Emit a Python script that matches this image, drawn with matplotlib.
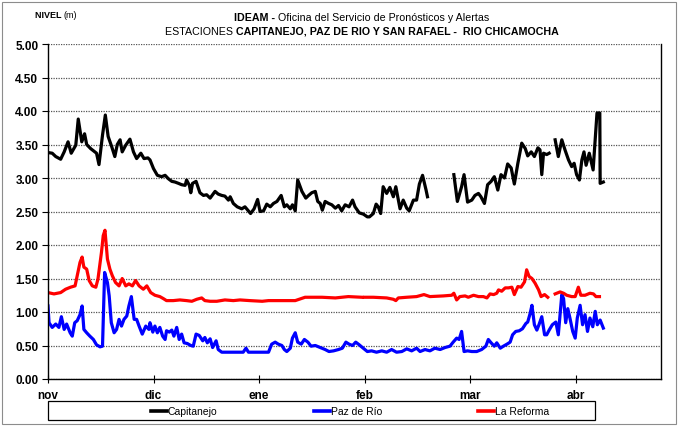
import matplotlib
matplotlib.use("Agg")
import matplotlib.pyplot as plt
import numpy as np
from matplotlib.lines import Line2D
from matplotlib.patches import Rectangle

FONT = ["Liberation Sans Narrow", "Liberation Sans", "DejaVu Sans"]
nan = np.nan

# x = days counted from 1 nov, NaN marks a gap in the record
CAP_DAYS = [0.0, 1.2, 2.2, 3.6, 4.6, 5.7, 6.6, 7.9, 8.6, 9.6, 10.4, 11.0, 12.1, 13.1, 13.8,
            14.5, 15.5, 16.3, 17.1, 18.1, 19.0, 19.7, 20.5, 21.1, 22.1, 23.3, 24.3, 25.2,
            26.4, 27.3, 28.4, 29.0, 30.0, 31.1, 32.3, 33.3, 34.2, 35.2, 36.1, 37.1, 38.0,
            39.0, 39.4, 40.2, 40.6, 41.1, 42.1, 43.2, 44.2, 45.1, 46.1, 47.5, 48.4, 49.4,
            50.3, 51.3, 51.8, 52.7, 53.8, 55.1, 56.0, 57.6, 58.6, 59.6, 60.3, 61.3, 62.2,
            63.2, 64.1, 65.1, 66.3, 67.2, 67.9, 68.9, 69.5, 70.3, 71.0, 72.2, 73.3, 74.1,
            75.0, 76.0, 76.7, 77.4, 78.0, 78.8, 79.8, 80.7, 81.7, 82.6, 83.5, 84.5, 85.6,
            86.6, 87.3, 88.5, 89.7, 90.8, 91.4, 92.5, 93.3, 93.9, 94.6, 95.3, 96.3, 97.2,
            98.2, 98.9, 100.1, 101.0, 102.0, 102.7, 103.9, 104.8, 105.6, 106.5, 107.5,
            107.9, 111.0, 115.4, 116.4, 117.6, 118.3, 119.3, 120.5, 121.4, 122.4, 123.1,
            124.1, 125.0, 126.0, 126.9, 127.9, 128.8, 129.8, 130.7, 131.7, 132.6, 133.6,
            134.7, 135.7, 136.4, 137.4, 138.3, 139.3, 139.9, 140.4, 140.9, 141.8, 142.5,
            143.3, 144.2, 145.1, 146.1, 147.0, 148.0, 148.9, 149.6, 150.3, 151.1, 151.8,
            152.4, 153.0, 153.9, 155.0, 156.1, 156.9, 157.0, 157.9]
CAP_LEVEL = [3.38, 3.37, 3.32, 3.28, 3.39, 3.54, 3.37, 3.49, 3.88, 3.54, 3.66, 3.50, 3.44, 3.40, 3.37,
             3.20, 3.64, 3.94, 3.62, 3.47, 3.32, 3.50, 3.57, 3.39, 3.49, 3.58, 3.39, 3.29,
             3.37, 3.29, 3.30, 3.27, 3.14, 3.04, 3.02, 3.04, 2.99, 2.95, 2.94, 2.92, 2.90,
             2.89, 2.97, 2.89, 2.78, 2.92, 2.95, 2.78, 2.74, 2.75, 2.70, 2.80, 2.76, 2.74,
             2.73, 2.67, 2.72, 2.62, 2.57, 2.54, 2.57, 2.47, 2.54, 2.68, 2.50, 2.51, 2.61,
             2.57, 2.62, 2.65, 2.74, 2.57, 2.60, 2.54, 2.60, 2.51, 2.97, 2.80, 2.70, 2.74,
             2.78, 2.80, 2.65, 2.62, 2.52, 2.65, 2.62, 2.60, 2.55, 2.59, 2.51, 2.60, 2.57,
             2.67, 2.57, 2.48, 2.46, 2.42, 2.42, 2.47, 2.61, 2.57, 2.47, 2.87, 2.77, 2.86,
             2.72, 2.87, 2.54, 2.67, 2.55, 2.51, 2.67, 2.67, 2.91, 3.04, 2.82,
             2.72, nan, 3.05, 2.65, 2.87, 3.05, 2.64, 2.67, 2.74, 2.77, 2.72,
             2.62, 2.90, 2.95, 3.02, 2.82, 3.05, 3.00, 3.21, 3.15, 2.91, 3.22,
             3.52, 3.44, 3.33, 3.39, 3.32, 3.45, 3.42, 3.05, 3.37, 3.35, 3.37,
             nan, 3.57, 3.32, 3.57, 3.42, 3.27, 3.17, 3.22, 3.05, 2.97, 3.27,
             3.39, 3.19, 3.37, 3.12, 3.97, 3.97, 2.92, 2.94]

PAZ_DAYS = [0.0, 0.3, 1.2, 2.2, 3.1, 3.8, 4.6, 5.3, 6.3, 6.9, 7.6, 8.3, 9.1, 9.7, 10.2, 11.0,
            11.9, 12.9, 13.8, 14.8, 15.5, 16.1, 16.9, 17.4, 18.0, 18.8, 19.5, 20.2, 20.9,
            21.6, 22.4, 23.0, 23.7, 24.5, 25.2, 25.9, 26.8, 27.8, 28.7, 29.0, 29.8, 30.4,
            31.1, 31.8, 32.6, 33.3, 33.7, 34.5, 35.2, 35.8, 36.6, 37.3, 38.0, 38.7, 39.6,
            40.6, 41.3, 42.1, 43.0, 44.0, 44.6, 45.3, 46.1, 46.8, 47.8, 48.4, 49.4, 55.5,
            56.3, 57.0, 60.9, 62.7, 63.6, 64.6, 65.5, 66.5, 67.2, 67.9, 68.9, 69.5, 70.3,
            71.0, 72.0, 72.9, 73.9, 74.8, 76.0, 77.4, 78.8, 79.9, 81.2, 82.6, 83.7, 84.7,
            85.6, 86.6, 87.5, 88.5, 89.4, 90.8, 92.0, 93.4, 94.9, 96.3, 97.7, 99.1, 100.6,
            102.0, 103.4, 104.8, 105.8, 107.2, 108.6, 110.0, 111.5, 112.9, 114.3, 115.2,
            116.2, 116.9, 117.6, 118.3, 119.3, 120.5, 121.9, 123.3, 124.5, 125.2, 126.0,
            126.9, 127.6, 128.6, 129.5, 130.5, 131.4, 132.1, 133.0, 134.0, 134.9, 135.9,
            136.4, 137.1, 137.6, 138.3, 139.0, 139.6, 140.4, 141.2, 141.8, 142.5, 143.4,
            144.4, 145.1, 146.1, 146.6, 147.2, 147.8, 148.4, 149.2, 149.9, 150.5, 151.3,
            152.0, 152.7, 153.4, 154.1, 154.9, 155.6, 156.2, 157.0, 157.9]
PAZ_LEVEL = [1.09, 0.84, 0.77, 0.82, 0.77, 0.93, 0.74, 0.82, 0.69, 0.64, 0.84, 0.87, 0.96, 1.09, 0.74, 0.69,
             0.64, 0.59, 0.51, 0.48, 0.49, 1.59, 1.44, 1.24, 0.84, 0.69, 0.74, 0.89, 0.79,
             0.89, 0.94, 1.09, 1.23, 0.89, 0.89, 0.79, 0.67, 0.79, 0.74, 0.84, 0.70, 0.79,
             0.69, 0.77, 0.64, 0.59, 0.72, 0.70, 0.73, 0.64, 0.77, 0.59, 0.67, 0.54, 0.53,
             0.50, 0.49, 0.67, 0.65, 0.57, 0.62, 0.54, 0.60, 0.47, 0.57, 0.44, 0.40, 0.40,
             0.46, 0.40, 0.40, 0.40, 0.52, 0.55, 0.52, 0.50, 0.44, 0.41, 0.46, 0.61, 0.69,
             0.55, 0.52, 0.59, 0.55, 0.49, 0.50, 0.47, 0.44, 0.41, 0.42, 0.44, 0.46, 0.55,
             0.52, 0.50, 0.55, 0.51, 0.47, 0.41, 0.42, 0.40, 0.42, 0.40, 0.44, 0.40, 0.41,
             0.45, 0.42, 0.46, 0.41, 0.44, 0.42, 0.46, 0.44, 0.47, 0.49, 0.55,
             0.61, 0.59, 0.71, 0.41, 0.42, 0.41, 0.41, 0.44, 0.49, 0.59, 0.54,
             0.49, 0.54, 0.46, 0.49, 0.52, 0.55, 0.66, 0.71, 0.72, 0.75, 0.83,
             0.85, 0.98, 1.10, 0.81, 0.73, 0.81, 0.93, 0.66, 0.66, 0.73, 0.81,
             0.85, 0.66, 1.26, 1.20, 0.84, 1.05, 0.91, 0.71, 0.61, 0.91, 1.10,
             0.81, 0.96, 0.71, 0.91, 0.78, 1.01, 0.81, 0.88, 0.76]

REF_DAYS = [0.0, 1.7, 3.6, 5.0, 6.4, 7.7, 8.3, 9.1, 9.7, 10.2, 11.0, 11.7, 12.6, 13.6, 14.2,
            15.2, 15.7, 16.2, 16.9, 17.6, 18.3, 19.2, 20.2, 21.1, 22.1, 23.0, 24.0, 24.9,
            25.9, 27.1, 28.1, 29.2, 30.4, 31.8, 32.8, 33.7, 35.6, 37.5, 39.4, 40.9, 42.3,
            43.7, 44.6, 46.1, 48.0, 50.3, 52.7, 54.6, 57.4, 60.9, 62.7, 66.5, 70.3, 73.1,
            77.9, 81.7, 85.4, 89.2, 89.6, 90.0, 92.5, 96.3, 98.2, 98.9, 99.6, 102.0, 104.8,
            106.9, 108.6, 112.4, 114.8, 115.4, 116.2, 117.1, 118.6, 119.5, 121.0, 122.4,
            123.8, 124.8, 125.7, 126.7, 127.6, 128.1, 129.0, 130.0, 130.9, 131.9, 132.6,
            133.6, 134.5, 135.5, 136.1, 136.8, 137.6, 138.5, 139.5, 140.2, 141.2, 142.1,
            143.2, 144.2, 145.6, 146.6, 147.5, 148.9, 149.9, 150.8, 151.5, 152.7, 154.1,
            155.1, 155.8, 156.8]
REF_LEVEL = [1.29, 1.27, 1.29, 1.34, 1.37, 1.39, 1.54, 1.74, 1.82, 1.67, 1.64, 1.47, 1.39, 1.37, 1.49,
             1.89, 2.14, 2.22, 1.79, 1.64, 1.54, 1.44, 1.39, 1.50, 1.39, 1.42, 1.39, 1.47,
             1.39, 1.34, 1.39, 1.29, 1.25, 1.23, 1.20, 1.17, 1.17, 1.18, 1.17, 1.16, 1.19,
             1.21, 1.17, 1.16, 1.16, 1.18, 1.17, 1.18, 1.17, 1.16, 1.17, 1.17, 1.17, 1.22,
             1.22, 1.21, 1.23, 1.22, nan, 1.22, 1.22, 1.21, 1.19, 1.17, 1.21, 1.22, 1.23,
             1.26, 1.23, 1.24, 1.25, 1.28, 1.18, 1.23, 1.24, 1.22, 1.25, 1.23,
             1.23, 1.21, 1.27, 1.26, 1.28, 1.33, 1.31, 1.36, 1.36, 1.37, 1.26,
             1.38, 1.37, 1.45, 1.63, 1.53, 1.50, 1.43, 1.33, 1.23, 1.26, 1.22,
             nan, 1.27, 1.30, 1.28, 1.25, 1.23, 1.23, 1.37, 1.25, 1.25, 1.28,
             1.27, 1.23, 1.23]

SERIES = ["Capitanejo", "Paz de Río", "La Reforma"]
COLORS = ["#000000", "#0000FF", "#FF0000"]
MONTHS = ["nov", "dic", "ene", "feb", "mar", "abr"]
MONTH_DAYS = [0, 30, 60, 90, 120, 150]
Y_TICKS = [0.0, 0.5, 1.0, 1.5, 2.0, 2.5, 3.0, 3.5, 4.0, 4.5, 5.0]

W, H = 679, 427


def fx(px):
    return px / W


def fy(py):
    return 1 - py / H


def mixed_line(fig, x0, cy, parts, size, centred=True):
    # one line made of bold / normal pieces placed side by side
    renderer = fig.canvas.get_renderer()
    texts = [fig.text(0, fy(cy), s, fontsize=size, weight=w, family=FONT, va="center")
             for s, w in parts]
    widths = [t.get_window_extent(renderer).width for t in texts]
    x = x0 - sum(widths) / 2 if centred else x0
    for t, w in zip(texts, widths):
        t.set_x(fx(x))
        x += w


fig = plt.figure(figsize=(W / 100, H / 100), dpi=100)
ax = fig.add_axes([fx(48), fy(380), fx(661 - 48), (380 - 45) / H])

ax.plot(CAP_DAYS, CAP_LEVEL, color=COLORS[0], lw=2.3, solid_joinstyle="round")
ax.plot(PAZ_DAYS, PAZ_LEVEL, color=COLORS[1], lw=2.3, solid_joinstyle="round")
ax.plot(REF_DAYS, REF_LEVEL, color=COLORS[2], lw=2.3, solid_joinstyle="round")

ax.set_xlim(0, 174.3)
ax.set_ylim(0, 5)
ax.set_yticks(Y_TICKS)
ax.set_yticklabels([f"{v:.2f}" for v in Y_TICKS], fontsize=8.5, weight="bold", family=FONT)
ax.set_xticks(MONTH_DAYS)
ax.set_xticklabels(MONTHS, fontsize=8.5, weight="bold", family=FONT)
ax.tick_params(axis="y", direction="out", length=4, width=0.8, pad=3)
ax.tick_params(axis="x", direction="inout", length=6, width=0.8, pad=4)
ax.grid(axis="y", linestyle=(0, (1, 1)), color="#555555", linewidth=0.9)
ax.set_axisbelow(True)
ax.spines["top"].set_visible(False)
for side in ["left", "right", "bottom"]:
    ax.spines[side].set_linewidth(1.0)

# titles
mixed_line(fig, 35, 15, [("NIVEL ", "bold"), ("(m)", "normal")], 6.5, centred=False)
mixed_line(fig, 362, 18, [("IDEAM - ", "bold"),
                          ("Oficina del Servicio de Pronósticos y Alertas", "normal")], 7.7)
mixed_line(fig, 362, 32, [("ESTACIONES ", "normal"),
                          ("CAPITANEJO, PAZ DE RIO Y SAN RAFAEL -  RIO CHICAMOCHA", "bold")], 7.7)

# legend box drawn Excel style
fig.add_artist(Rectangle((fx(48), fy(421)), fx(595 - 48), 19 / H, transform=fig.transFigure,
                         fill=False, edgecolor="black", linewidth=0.9))
for name, color, left in zip(SERIES, COLORS, [151, 314, 478]):
    fig.add_artist(Line2D([fx(left), fx(left + 16)], [fy(412), fy(412)],
                          transform=fig.transFigure, color=color, lw=2.6))
    fig.text(fx(left + 17), fy(412), name, fontsize=7.5, family=FONT, va="center")

# outer frame
fig.add_artist(Rectangle((fx(2), fy(425)), fx(674), 422 / H, transform=fig.transFigure,
                         fill=False, edgecolor="#8c8c8c", linewidth=0.8))

fig.savefig("out.png", dpi=100, facecolor="white")
